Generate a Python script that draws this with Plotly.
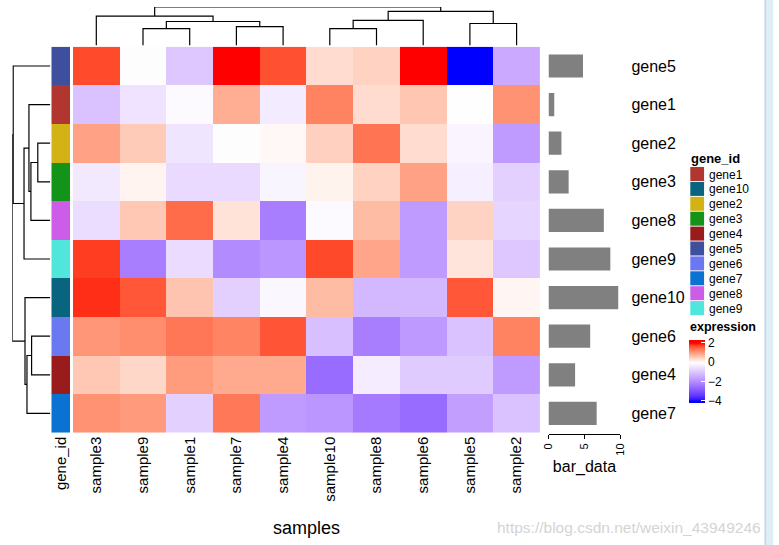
import numpy as np
import plotly.graph_objects as go

W, H = 779, 545
FONT = "Liberation Sans"

# ---------------- data ----------------
samples = ["sample3", "sample9", "sample1", "sample7", "sample4",
           "sample10", "sample8", "sample6", "sample5", "sample2"]
genes = ["gene5", "gene1", "gene2", "gene3", "gene8",
         "gene9", "gene10", "gene6", "gene4", "gene7"]

gene5 = [1.72, 0.00, -0.95, 2.30, 1.68, 0.37, 0.47, 2.10, -4.10, -1.47]
gene1 = [-1.07, -0.48, -0.10, 0.85, -0.35, 1.27, 0.37, 0.60, -0.02, 1.12]
gene2 = [0.97, 0.55, -0.45, 0.00, 0.07, 0.50, 1.39, 0.37, -0.18, -1.72]
gene3 = [-0.38, 0.12, -0.62, -0.62, -0.17, 0.13, 0.47, 0.97, -0.27, -0.80]
gene8 = [-0.58, 0.58, 1.47, 0.30, -2.23, -0.10, 0.70, -1.72, 0.46, -0.72]
gene9 = [1.80, -2.23, -0.60, -2.00, -1.80, 1.73, 0.93, -1.72, 0.28, -0.95]
gene10 = [1.88, 1.63, 0.62, -0.80, -0.13, 0.70, -1.22, -1.22, 1.63, 0.10]
gene6 = [1.08, 1.16, 1.37, 1.25, 1.65, -1.10, -2.23, -1.75, -1.07, 1.27]
gene4 = [0.58, 0.42, 1.02, 0.88, 0.88, -2.55, -0.30, -0.88, -0.88, -1.72]
gene7 = [1.12, 1.04, -0.80, 1.35, -1.72, -1.80, -2.30, -2.55, -1.65, -1.07]
expression = [gene5, gene1, gene2, gene3, gene8, gene9, gene10, gene6, gene4, gene7]

bar_data = [4.8, 0.8, 1.8, 2.8, 7.7, 8.6, 9.7, 5.8, 3.7, 6.7]

legend_genes = ["gene1", "gene10", "gene2", "gene3", "gene4",
                "gene5", "gene6", "gene7", "gene8", "gene9"]
gene_colors = {"gene1": "#B0362F", "gene10": "#09657F", "gene2": "#D2B214",
               "gene3": "#139418", "gene4": "#9A1B1C", "gene5": "#3E4F9E",
               "gene6": "#6B79F0", "gene7": "#0A73D2", "gene8": "#CD5CE8",
               "gene9": "#50E6DC"}

# column dendrogram merges: (left, right, height)
col_merges = [("sample9", "sample1", 16.7), ("sample7", "sample4", 18.7),
              (0, 1, 23.7), ("sample3", 2, 29.0), ("sample10", "sample8", 16.7),
              (4, "sample6", 24.7), ("sample5", "sample2", 21.7), (5, 6, 33.7),
              (3, 7, 38.0)]
# row dendrogram merges
row_merges = [("gene2", "gene3", 12.7), (0, "gene8", 19.7), ("gene1", 1, 21.7),
              (2, "gene9", 26.7), ("gene5", 3, 37.7), ("gene6", "gene4", 19.0),
              (5, "gene7", 23.7), ("gene10", 6, 25.7), (4, 7, 38.7)]

color_breaks = [-4, 0, 2]
break_colors = [(0, 0, 255), (255, 255, 255), (255, 0, 0)]
legend_range = [-4.2, 2.36]
legend_ticks = [-4, -2, 0, 2]


# ---------------- helpers ----------------
def _lin(c):
    c = c / 255.0
    return c / 12.92 if c <= 0.04045 else ((c + 0.055) / 1.055) ** 2.4


def _gam(c):
    c = max(0.0, min(1.0, c))
    v = 12.92 * c if c <= 0.0031308 else 1.055 * c ** (1 / 2.4) - 0.055
    return int(round(v * 255))


def rgb2lab(rgb):
    r, g, b = [_lin(v) for v in rgb]
    X = (0.4124 * r + 0.3576 * g + 0.1805 * b) / 0.95047
    Y = (0.2126 * r + 0.7152 * g + 0.0722 * b)
    Z = (0.0193 * r + 0.1192 * g + 0.9505 * b) / 1.08883
    f = lambda t: t ** (1 / 3) if t > 0.008856 else 7.787 * t + 16 / 116
    fx_, fy_, fz_ = f(X), f(Y), f(Z)
    return (116 * fy_ - 16, 500 * (fx_ - fy_), 200 * (fy_ - fz_))


def lab2rgb(lab):
    L, a, b = lab
    fy_ = (L + 16) / 116
    fx_ = fy_ + a / 500
    fz_ = fy_ - b / 200
    fi = lambda t: t ** 3 if t ** 3 > 0.008856 else (t - 16 / 116) / 7.787
    X, Y, Z = 0.95047 * fi(fx_), fi(fy_), 1.08883 * fi(fz_)
    r = 3.2406 * X - 1.5372 * Y - 0.4986 * Z
    g = -0.9689 * X + 1.8758 * Y + 0.0415 * Z
    bb = 0.0557 * X - 0.2040 * Y + 1.0570 * Z
    return (_gam(r), _gam(g), _gam(bb))


labs = [rgb2lab(c) for c in break_colors]
vmin, vmax = legend_range
colorscale = []
for v in np.linspace(vmin, vmax, 81):
    vc = min(max(v, color_breaks[0]), color_breaks[-1])
    for i in range(len(color_breaks) - 1):
        if color_breaks[i] <= vc <= color_breaks[i + 1]:
            t = (vc - color_breaks[i]) / (color_breaks[i + 1] - color_breaks[i])
            lab = [labs[i][k] + t * (labs[i + 1][k] - labs[i][k]) for k in range(3)]
            r, g, b = lab2rgb(lab)
            colorscale.append([(v - vmin) / (vmax - vmin), f"rgb({r},{g},{b})"])
            break
colorscale[0][0] = 0.0
colorscale[-1][0] = 1.0


def dendro_lines(merges, leaves):
    pos = {name: float(i) for i, name in enumerate(leaves)}
    hts = {name: 0.0 for name in leaves}
    xs, ys = [], []
    for k, (a, b, h) in enumerate(merges):
        pa, pb = pos[a], pos[b]
        xs += [pa, pa, pb, pb, None]
        ys += [hts[a], h, h, hts[b], None]
        pos[k] = (pa + pb) / 2
        hts[k] = h
    return xs, ys


def fx(px):
    return px / W


def fy(py):
    return 1 - py / H


# ---------------- figure ----------------
fig = go.Figure()

hm_x = [fx(68), fx(542.3)]
hm_y = [fy(432.7), fy(46.7)]

fig.add_trace(go.Heatmap(
    z=expression, x=list(range(len(samples))), y=list(range(len(genes))),
    colorscale=colorscale, zmin=vmin, zmax=vmax, xaxis="x", yaxis="y",
    colorbar=dict(x=fx(694), xanchor="left", y=fy(339.5), yanchor="top",
                  len=62.5, lenmode="pixels", thickness=16, thicknessmode="pixels",
                  xpad=0, ypad=0, outlinewidth=0, tickvals=legend_ticks,
                  ticks="inside", tickcolor="white", ticklen=4,
                  tickfont=dict(family=FONT, size=12, color="black")),
    hoverinfo="skip"))

# gene_id annotation column
n = len(legend_genes)
ann_scale = []
for i, g in enumerate(legend_genes):
    ann_scale.append([i / n, gene_colors[g]])
    ann_scale.append([(i + 1) / n, gene_colors[g]])
fig.add_trace(go.Heatmap(
    z=[[legend_genes.index(g)] for g in genes], x=[0], y=list(range(len(genes))),
    colorscale=ann_scale, zmin=-0.5, zmax=n - 0.5, showscale=False,
    xaxis="x2", yaxis="y", hoverinfo="skip"))

# bar annotation
fig.add_trace(go.Bar(
    x=bar_data, y=list(range(len(genes))), orientation="h", width=0.6,
    marker=dict(color="#808080", line=dict(width=0)), xaxis="x3", yaxis="y3"))

# dendrograms
cx, cy = dendro_lines(col_merges, samples)
fig.add_trace(go.Scatter(x=cx, y=cy, mode="lines", line=dict(color="black", width=1.2),
                         xaxis="x4", yaxis="y4", hoverinfo="skip"))
rx, ry = dendro_lines(row_merges, genes)
fig.add_trace(go.Scatter(x=ry, y=rx, mode="lines", line=dict(color="black", width=1.2),
                         xaxis="x5", yaxis="y5", hoverinfo="skip"))

lbl_font = dict(family=FONT, size=15, color="black")
fig.update_layout(
    width=W, height=H, margin=dict(l=0, r=0, t=0, b=0),
    paper_bgcolor="white", plot_bgcolor="white", showlegend=False,
    font=dict(family=FONT, color="black"),
    xaxis=dict(domain=hm_x, range=[-0.5, 9.5], anchor="y", tickvals=list(range(10)),
               ticktext=samples, tickangle=-90, ticks="", showgrid=False,
               zeroline=False, showline=False, tickfont=lbl_font),
    yaxis=dict(domain=hm_y, range=[9.5, -0.5], showticklabels=False, ticks="",
               showgrid=False, zeroline=False),
    xaxis2=dict(domain=[fx(46), fx(65)], range=[-0.5, 0.5], anchor="y", tickvals=[0],
                ticktext=["gene_id"], tickangle=-90, ticks="", showgrid=False,
                zeroline=False, tickfont=lbl_font),
    xaxis3=dict(domain=[fx(551), fx(624)], range=[0, 10], anchor="y3",
                tickvals=[0, 5, 10], tickangle=-90, ticks="outside", ticklen=4,
                tickcolor="black", showline=True, linecolor="black", linewidth=1,
                showgrid=False, zeroline=False,
                tickfont=dict(family=FONT, size=11, color="black"),
                title=dict(text="bar_data", standoff=6,
                           font=dict(family=FONT, size=16, color="black"))),
    yaxis3=dict(domain=[fy(434), fy(46.7)], range=[9.5 + 1.3 / 38.6, -0.5],
                anchor="x3", side="right",
                tickvals=list(range(10)), ticktext=genes, ticks="",
                ticklabelstandoff=10, showgrid=False, zeroline=False,
                tickfont=dict(family=FONT, size=16, color="black")),
    xaxis4=dict(domain=hm_x, range=[-0.5, 9.5], visible=False, anchor="y4"),
    yaxis4=dict(domain=[fy(45.5), fy(7)], range=[0, 38.0], visible=False, anchor="x4"),
    xaxis5=dict(domain=[fx(6.3), fx(45)], range=[38.7, 0], visible=False, anchor="y5"),
    yaxis5=dict(domain=hm_y, range=[9.5, -0.5], visible=False, anchor="x5"),
)

# gene_id legend
shapes = []
annotations = []
annotations.append(dict(x=fx(694), y=fy(158), xref="paper", yref="paper",
                        text="<b>gene_id</b>", showarrow=False, xanchor="left",
                        yanchor="middle", font=dict(family=FONT, size=13)))
for i, g in enumerate(legend_genes):
    top = 167 + 14.9 * i
    shapes.append(dict(type="rect", xref="paper", yref="paper", x0=fx(695), x1=fx(709),
                       y0=fy(top + 14), y1=fy(top), fillcolor=gene_colors[g],
                       line=dict(width=0)))
    annotations.append(dict(x=fx(712), y=fy(top + 7.5), xref="paper", yref="paper",
                            text=g, showarrow=False, xanchor="left", yanchor="middle",
                            font=dict(family=FONT, size=12)))
annotations.append(dict(x=fx(694), y=fy(327), xref="paper", yref="paper",
                        text="<b>expression</b>", showarrow=False, xanchor="left",
                        yanchor="middle", borderpad=0,
                        font=dict(family=FONT, size=12.5)))
annotations.append(dict(x=fx(305), y=fy(528), xref="paper", yref="paper",
                        text="samples", showarrow=False, xanchor="center",
                        yanchor="middle", font=dict(family=FONT, size=18)))
annotations.append(dict(x=fx(769), y=fy(527), xref="paper", yref="paper",
                        text="https://blog.csdn.net/weixin_43949246", showarrow=False,
                        xanchor="right", yanchor="middle",
                        font=dict(family=FONT, size=15.5, color="#D4D4D4")))
# right-edge window strip
shapes.append(dict(type="rect", xref="paper", yref="paper", x0=fx(771), x1=1,
                   y0=0, y1=1, fillcolor="#DDEEF6", line=dict(width=0)))
shapes.append(dict(type="line", xref="paper", yref="paper", x0=fx(771), x1=fx(771),
                   y0=0, y1=1, line=dict(color="#A9C7DA", width=1)))
fig.update_layout(shapes=shapes, annotations=annotations)

fig.write_html("out.html")
